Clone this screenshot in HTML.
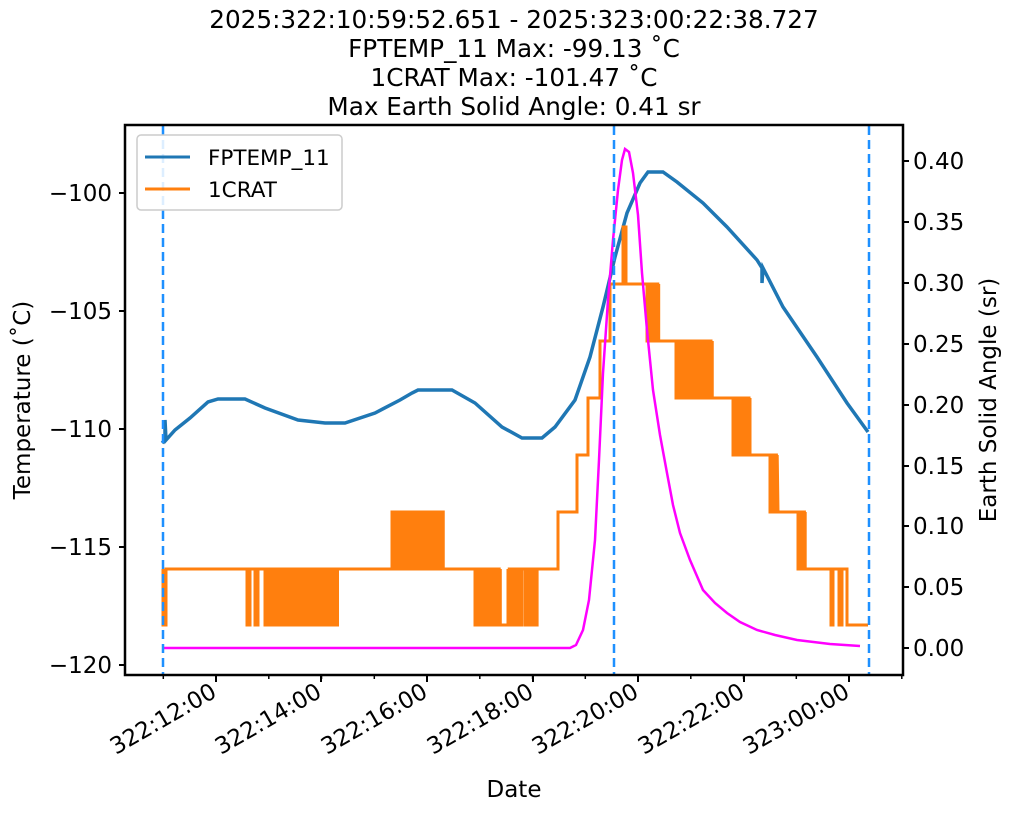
<!DOCTYPE html>
<html><head><meta charset="utf-8"><style>
body{margin:0;background:#fff}
svg text{font-family:"DejaVu Sans","Liberation Sans",sans-serif;fill:#000}
</style></head><body>
<svg id="s" width="1011" height="811" xmlns="http://www.w3.org/2000/svg">
<g font-size="24.7" text-anchor="middle">
<text x="514" y="28">2025:322:10:59:52.651 - 2025:323:00:22:38.727</text>
<text x="514" y="57">FPTEMP_11 Max: -99.13 ˚C</text>
<text x="514" y="86">1CRAT Max: -101.47 ˚C</text>
<text x="514" y="115">Max Earth Solid Angle: 0.41 sr</text>
</g>
<g fill="none" stroke-linejoin="miter">
<path d="M162,443 L165,440 L165,420 L166,440 L175,430 L190,418 L208,402 L218,399 L245,399 L265,408 L298,420 L325,423 L345,423 L375,413 L400,400 L412,393 L418,390 L452,390 L475,403 L502,427 L522,438 L542,438 L555,427 L575,400 L590,357 L603,307 L615,257 L627,213 L640,183 L648,172 L663,172 L677,182 L703,203 L727,227 L757,260 L762,268 L762,283 L763,268 L783,307 L817,357 L847,403 L868,432" stroke="#1f77b4" stroke-width="3.5"/>
<path id="org" d="" stroke="#ff7f0e" stroke-width="3"/>
<path d="M163,648 L570,648 L576,645 L583,630 L589,600 L595,540 L599,460 L603,373 L608,300 L613,240 L618,190 L622,160 L625,149 L629,152 L633,173 L638,215 L642,273 L647,330 L653,390 L660,435 L667,473 L673,505 L680,533 L690,560 L703,590 L715,603 L727,613 L740,622 L757,630 L775,635 L797,640 L830,644 L860,646" stroke="#ff00ff" stroke-width="2.5"/>
</g>
<g stroke="#1e90ff" stroke-width="2.5" stroke-dasharray="9,5">
<line x1="163" y1="126" x2="163" y2="674"/><line x1="614" y1="126" x2="614" y2="674"/><line x1="869" y1="126" x2="869" y2="674"/>
</g>
<rect x="125" y="125" width="778" height="550" fill="none" stroke="#000" stroke-width="2.5"/>
<g stroke="#000" stroke-width="2">
<line x1="119" y1="193" x2="125" y2="193"/><line x1="119" y1="311" x2="125" y2="311"/><line x1="119" y1="429" x2="125" y2="429"/><line x1="119" y1="547" x2="125" y2="547"/><line x1="119" y1="665" x2="125" y2="665"/>
<line x1="903" y1="161" x2="909" y2="161"/><line x1="903" y1="222" x2="909" y2="222"/><line x1="903" y1="283" x2="909" y2="283"/><line x1="903" y1="344" x2="909" y2="344"/><line x1="903" y1="405" x2="909" y2="405"/><line x1="903" y1="466" x2="909" y2="466"/><line x1="903" y1="526" x2="909" y2="526"/><line x1="903" y1="587" x2="909" y2="587"/><line x1="903" y1="648" x2="909" y2="648"/>
<line x1="216" y1="675" x2="216" y2="682"/><line x1="321" y1="675" x2="321" y2="682"/><line x1="427" y1="675" x2="427" y2="682"/><line x1="533" y1="675" x2="533" y2="682"/><line x1="638" y1="675" x2="638" y2="682"/><line x1="744" y1="675" x2="744" y2="682"/><line x1="849" y1="675" x2="849" y2="682"/>
</g>
<g stroke="#000" stroke-width="1.5" id="minor"></g>
<g font-size="23" text-anchor="end">
<text x="112" y="201">−100</text><text x="112" y="319">−105</text><text x="112" y="437">−110</text><text x="112" y="555">−115</text><text x="112" y="673">−120</text>
</g>
<g font-size="23" text-anchor="start">
<text x="913" y="169">0.40</text><text x="913" y="230">0.35</text><text x="913" y="291">0.30</text><text x="913" y="352">0.25</text><text x="913" y="413">0.20</text><text x="913" y="474">0.15</text><text x="913" y="534">0.10</text><text x="913" y="595">0.05</text><text x="913" y="656">0.00</text>
</g>
<g font-size="23" text-anchor="end">
<text transform="translate(218,696) rotate(-30)">322:12:00</text>
<text transform="translate(323,696) rotate(-30)">322:14:00</text>
<text transform="translate(429,696) rotate(-30)">322:16:00</text>
<text transform="translate(535,696) rotate(-30)">322:18:00</text>
<text transform="translate(640,696) rotate(-30)">322:20:00</text>
<text transform="translate(746,696) rotate(-30)">322:22:00</text>
<text transform="translate(851,696) rotate(-30)">323:00:00</text>
</g>
<text x="514" y="797" font-size="23" text-anchor="middle">Date</text>
<text transform="translate(30,400) rotate(-90)" font-size="23" text-anchor="middle">Temperature (˚C)</text>
<text transform="translate(996,400) rotate(-90)" font-size="23" text-anchor="middle">Earth Solid Angle (sr)</text>
<rect x="137" y="135" width="205" height="75" rx="4" fill="#fff" fill-opacity="0.85" stroke="#ccc" stroke-width="1.5"/>
<line x1="145" y1="157" x2="190" y2="157" stroke="#1f77b4" stroke-width="3"/>
<line x1="145" y1="189" x2="190" y2="189" stroke="#ff7f0e" stroke-width="3"/>
<text x="208" y="165" font-size="21.5">FPTEMP_11</text>
<text x="208" y="197" font-size="21.5">1CRAT</text>
</svg>
<script>
var d="M163,569 L163,625 L166,625 L166,569";
function L(x,y){d+=" L"+x+","+y;}
function dense(x0,x1,yb,ya,st){for(var x=x0;x<=x1;x+=st){L(x,yb);L(x,ya);L(x+st/2,ya);L(x+st/2,yb);}}
L(247,569);dense(247,249,569,625,2);dense(255,257,569,625,2);
dense(265,325,569,625,2.2);dense(327,338,569,625,3);
L(392,569);dense(392,442,569,512,2.5);
L(475,569);dense(475,500,569,625,2.2);L(500,625);L(508,625);dense(508,522,569,625,2.5);dense(525,538,569,625,2.2);
L(558,569);L(558,512);L(577,512);L(577,455);L(588,455);L(588,398);L(600,398);L(600,341);L(610,341);L(610,284);
L(623,284);L(623,227);L(626,227);L(626,284);L(647,284);dense(647,658,284,341,1.8);L(658,341);
L(676,341);dense(676,712,341,398,2.5);L(712,398);L(733,398);dense(733,750,398,455,2);L(750,455);
L(770,455);dense(770,778,455,512,1.6);L(778,512);L(798,512);dense(798,805,512,569,1.6);L(805,569);
L(831,569);L(831,625);L(833,625);L(833,569);L(839,569);L(839,625);L(842,625);L(842,569);L(847,569);L(847,625);L(868,625);
document.getElementById("org").setAttribute("d",d);
var m="";for(var x=163.3;x<903;x+=52.75){m+='<line x1="'+x+'" y1="675" x2="'+x+'" y2="679"/>';}
document.getElementById("minor").innerHTML=m;
</script>
</body></html>
